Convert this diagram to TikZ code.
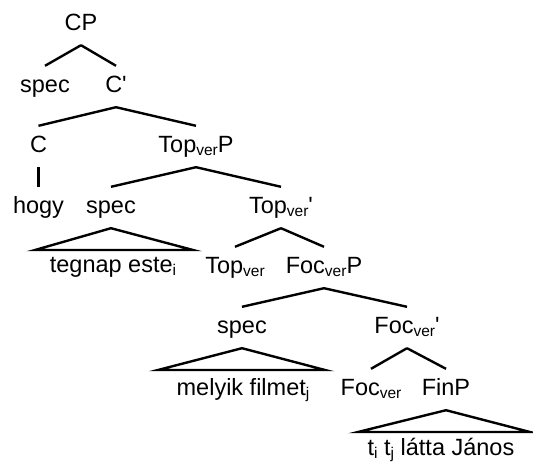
\documentclass[tikz,border=0pt]{standalone}
\usepackage{fontspec}
\setmainfont{Liberation Sans}
\newcommand{\lowsub}[1]{\raisebox{-3pt}{\fontsize{15.5}{16}\selectfont #1}}

\begin{document}
\begin{tikzpicture}[x=1pt,y=-1pt,line width=2.4pt,
    lbl/.style={anchor=base,inner xsep=0pt,inner ysep=10pt,text height=15pt,text depth=4pt,font=\fontsize{23.5}{27}\selectfont}]
    \useasboundingbox (0,0) rectangle (533,463);

    \node[lbl] (cp) at (81,30) {CP};
    \node[lbl] (specA) at (45,92) {spec};
    \node[lbl] (cbar) at (116,92) {C\textquotesingle};
    \node[lbl] (c) at (38.5,152) {C};
    \node[lbl] (topP) at (196,152) {Top\lowsub{ver}P};
    \node[lbl] (hogy) at (38.5,213) {hogy};
    \node[lbl] (specB) at (111,213) {spec};
    \node[lbl] (topbar) at (281,213) {Top\lowsub{ver}\textquotesingle};
    \node[lbl] (tegnap) at (113,272) {tegnap este\lowsub{i}};
    \node[lbl] (top) at (235,273) {Top\lowsub{ver}};
    \node[lbl] (focP) at (324,273) {Foc\lowsub{ver}P};
    \node[lbl] (specC) at (242,333) {spec};
    \node[lbl] (focbar) at (407,333) {Foc\lowsub{ver}\textquotesingle};
    \node[lbl] (melyik) at (243,395) {melyik filmet\lowsub{j}};
    \node[lbl] (foc) at (371,395) {Foc\lowsub{ver}};
    \node[lbl] (finP) at (446,395) {FinP};
    \node[lbl] (latta) at (441,455) {t\lowsub{i} t\lowsub{j} látta János};

    \foreach \p/\c in {cp/specA,cp/cbar,cbar/c,cbar/topP,c/hogy,topP/specB,topP/topbar,
        topbar/top,topbar/focP,focP/specC,focP/focbar,focbar/foc,focbar/finP}{
        \draw (\p.south) -- (\c.north);
    }

    % triangles
    \coordinate (triAl) at (35,250);
    \coordinate (triAr) at (193,250);
    \coordinate (triBl) at (158,370);
    \coordinate (triBr) at (325,370);
    \coordinate (triCl) at (358,432);
    \coordinate (triCr) at (530,432);

    \draw (specB.south) -- (triAl) -- (triAr) -- cycle;
    \draw (specC.south) -- (triBl) -- (triBr) -- cycle;
    \draw (finP.south) -- (triCl) -- (triCr) -- cycle;

\end{tikzpicture}
\end{document}
